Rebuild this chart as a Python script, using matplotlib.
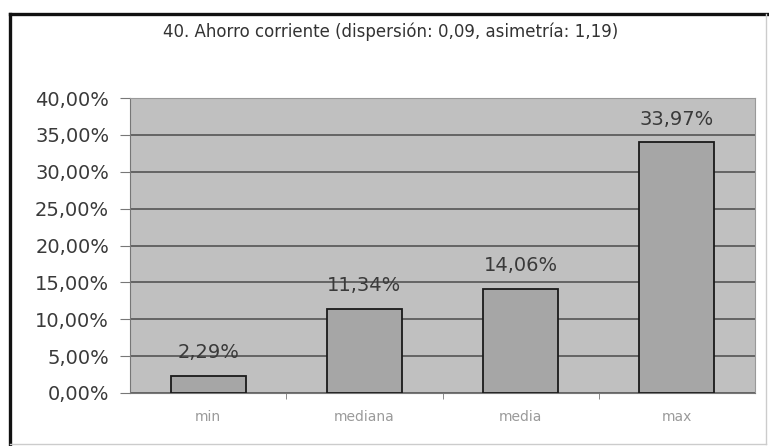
import matplotlib.pyplot as plt
from matplotlib.lines import Line2D

categories = ['min', 'mediana', 'media', 'max']
values = [2.29, 11.34, 14.06, 33.97]
labels = ['2,29%', '11,34%', '14,06%', '33,97%']
yticks = [0, 5, 10, 15, 20, 25, 30, 35, 40]
title = '40. Ahorro corriente (dispersión: 0,09, asimetría: 1,19)'

W, H = 769, 446
fig = plt.figure(figsize=(W / 100, H / 100), dpi=100)
fig.patch.set_facecolor('white')


def fx(px):
    return px / W


def fy(py):
    return 1 - py / H


# outer chart frame: dark top/left, light right/bottom
fig.lines.append(Line2D([fx(10), fx(769)], [fy(14), fy(14)], transform=fig.transFigure,
                        color='#111111', linewidth=2.4))
fig.lines.append(Line2D([fx(10), fx(10)], [fy(14), fy(446)], transform=fig.transFigure,
                        color='#111111', linewidth=2.4))
fig.lines.append(Line2D([fx(766), fx(766)], [fy(14), fy(444)], transform=fig.transFigure,
                        color='#cccccc', linewidth=1.0))
fig.lines.append(Line2D([fx(10), fx(766)], [fy(444), fy(444)], transform=fig.transFigure,
                        color='#cccccc', linewidth=1.0))

ax = fig.add_axes([fx(130), fy(393), fx(625), 295 / H])
ax.set_facecolor('#c0c0c0')

x = list(range(len(categories)))
ax.bar(x, values, width=0.48, color='#a6a6a6', edgecolor='#1a1a1a', linewidth=1.3, zorder=3)
for xi, v, lab in zip(x, values, labels):
    ax.annotate(lab, (xi, v), xytext=(0, 10), textcoords='offset points',
                ha='center', va='bottom', fontsize=14, color='#3a3a3a', zorder=4)

ax.set_xlim(-0.5, len(categories) - 0.5)
ax.set_ylim(0, 40)
ax.set_yticks(yticks)
ax.set_yticklabels(['%d,00%%' % t for t in yticks], fontsize=14, color='#3a3a3a')
ax.yaxis.grid(True, color='#555555', linewidth=1.2, zorder=1)
ax.set_xticks(x)
ax.set_xticklabels(categories, fontsize=10, color='#9a9a9a')
ax.set_xticks([0.5, 1.5, 2.5], minor=True)
ax.tick_params(axis='x', which='major', length=0, pad=12)
ax.tick_params(axis='x', which='minor', length=4, color='#777777')
ax.tick_params(axis='y', length=7, color='#777777', pad=8)
for s in ['top', 'right']:
    ax.spines[s].set_color('#999999')
ax.spines['left'].set_color('#777777')
ax.spines['bottom'].set_color('#777777')

fig.text(fx(391), fy(32), title, ha='center', va='center', fontsize=12, color='#333333')

fig.savefig('out.png', dpi=100)
